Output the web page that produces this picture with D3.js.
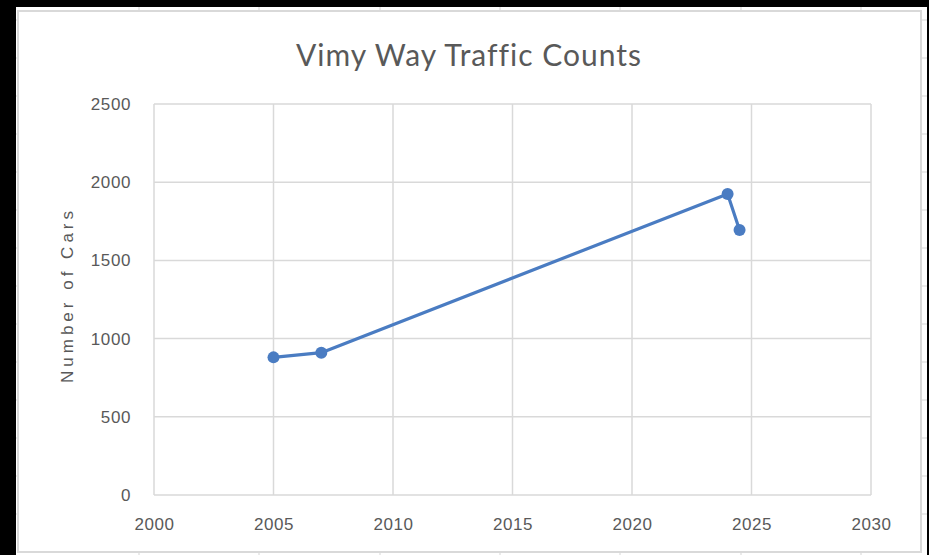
<!DOCTYPE html>
<html lang="en">
<head>
  <meta charset="UTF-8">
  <title>Vimy Way Traffic Counts</title>
  <script src="https://d3js.org/d3.v7.min.js"></script>
  <style>
    html, body {
      margin: 0;
      padding: 0;
      background: #000;
    }
    svg {
      display: block;
    }
  </style>
</head>
<body>

<svg id="chart" width="929" height="555"></svg>

<script>
// Data
const years = [2005, 2007, 2024, 2024.5];
const cars = [880, 910, 1925, 1695];
const xTicks = [2000, 2005, 2010, 2015, 2020, 2025, 2030];
const yTicks = [0, 500, 1000, 1500, 2000, 2500];
const title = "Vimy Way Traffic Counts";
const yLabel = "Number of Cars";

const W = 929, H = 555;
const plot = {left: 154, right: 871, top: 104, bottom: 495};
const textColor = "#595959";
const gridColor = "#d9d9d9";
const blue = "#4a7cc2";

const svg = d3.select("#chart");

// White sheet behind the chart (black strips left and top)
svg.append("rect")
  .attr("x", 16).attr("y", 7)
  .attr("width", W - 16 - 2).attr("height", H - 7)
  .attr("fill", "#fff");

// Faint spreadsheet cell lines peeking out round the chart
const sheet = svg.append("g").attr("stroke", "#e3e3e3").attr("stroke-width", 1.5);
[20, 58, 96, 134, 172, 210, 248, 286, 324, 362, 400, 438, 476, 514].forEach(y => {
  sheet.append("line").attr("x1", 16).attr("x2", 19).attr("y1", y).attr("y2", y);
  sheet.append("line").attr("x1", 921).attr("x2", 927).attr("y1", y).attr("y2", y);
});
[139, 259, 380, 500, 620, 741, 861].forEach(x => {
  sheet.append("line").attr("x1", x).attr("x2", x).attr("y1", 7).attr("y2", 11);
  sheet.append("line").attr("x1", x).attr("x2", x).attr("y1", 552).attr("y2", 555);
});

// Chart border
svg.append("rect")
  .attr("x", 18).attr("y", 11)
  .attr("width", 921 - 18).attr("height", 552 - 11)
  .attr("fill", "#fff")
  .attr("stroke", "#d9d9d9")
  .attr("stroke-width", 2);

// Scales
const x = d3.scaleLinear().domain([2000, 2030]).range([plot.left, plot.right]);
const y = d3.scaleLinear().domain([0, 2500]).range([plot.bottom, plot.top]);

// Gridlines
const grid = svg.append("g").attr("stroke", gridColor).attr("stroke-width", 1.5);
xTicks.forEach(t => {
  grid.append("line")
    .attr("x1", x(t)).attr("x2", x(t))
    .attr("y1", plot.top).attr("y2", plot.bottom);
});
yTicks.forEach(t => {
  grid.append("line")
    .attr("x1", plot.left).attr("x2", plot.right)
    .attr("y1", y(t)).attr("y2", y(t));
});

// Axes (labels only, lines are the gridlines)
const xAxis = svg.append("g")
  .attr("transform", `translate(0,${plot.bottom})`)
  .call(d3.axisBottom(x).tickValues(xTicks).tickSize(0).tickPadding(23).tickFormat(d3.format("d")));
const yAxis = svg.append("g")
  .attr("transform", `translate(${plot.left},0)`)
  .call(d3.axisLeft(y).tickValues(yTicks).tickSize(0).tickPadding(23).tickFormat(d3.format("d")));

[xAxis, yAxis].forEach(a => {
  a.select(".domain").remove();
  a.selectAll("text")
    .attr("fill", textColor)
    .style("font-family", "'Liberation Sans', Arial, sans-serif")
    .style("font-size", "17px")
    .style("letter-spacing", "0.6px");
});

// Line and markers
const line = d3.line()
  .x((d, i) => x(years[i]))
  .y(d => y(d));

svg.append("path")
  .datum(cars)
  .attr("fill", "none")
  .attr("stroke", blue)
  .attr("stroke-width", 3.2)
  .attr("stroke-linejoin", "round")
  .attr("d", line);

svg.append("g")
  .selectAll("circle")
  .data(cars)
  .join("circle")
  .attr("cx", (d, i) => x(years[i]))
  .attr("cy", d => y(d))
  .attr("r", 6)
  .attr("fill", blue);

// Title
svg.append("text")
  .attr("x", 469)
  .attr("y", 66)
  .attr("text-anchor", "middle")
  .attr("fill", textColor)
  .style("font-family", "Lato, 'Open Sans', sans-serif")
  .style("font-size", "30px")
  .style("letter-spacing", "1px")
  .text(title);

// Y axis title
svg.append("text")
  .attr("transform", "translate(73,295) rotate(-90)")
  .attr("text-anchor", "middle")
  .attr("fill", textColor)
  .style("font-family", "'Liberation Sans', Arial, sans-serif")
  .style("font-size", "17px")
  .style("letter-spacing", "4px")
  .text(yLabel);
</script>

</body>
</html>
